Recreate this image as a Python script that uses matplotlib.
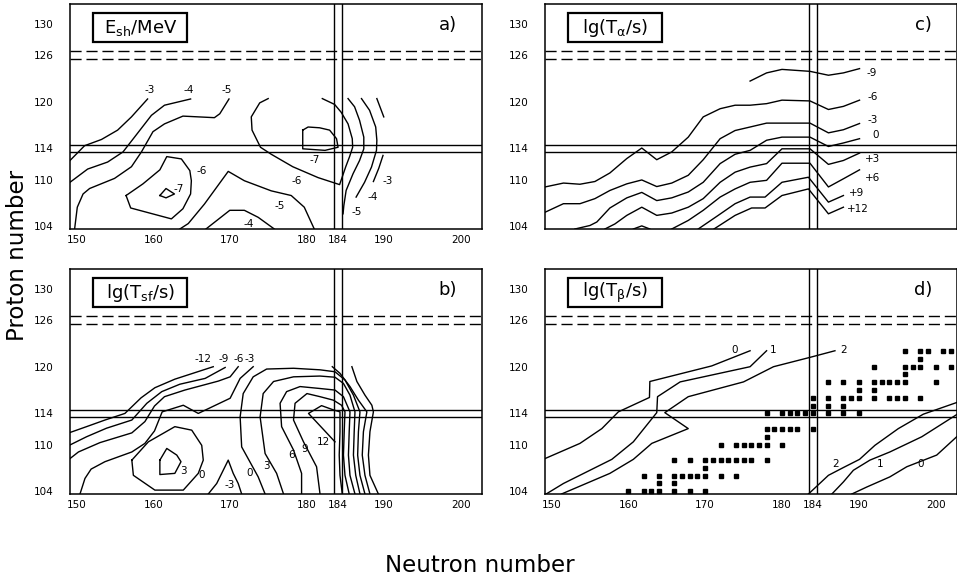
import matplotlib
matplotlib.use('Agg')
import matplotlib.pyplot as plt
from matplotlib import font_manager
from matplotlib.patches import Rectangle

# fonts: narrow face for the numbers if it is there
have = {f.name for f in font_manager.fontManager.ttflist}
NARROW = 'Liberation Sans Narrow' if 'Liberation Sans Narrow' in have else 'DejaVu Sans'
plt.rcParams['font.family'] = [NARROW, 'DejaVu Sans']
plt.rcParams['mathtext.fontset'] = 'dejavusans'

"""# axes"""
x_ticks = [150, 160, 170, 180, 184, 190, 200]
y_ticks = [104, 110, 114, 120, 126, 130]
magic_n = 184
magic_z = [114, 126]

"""# a) shell correction energy E_sh/MeV  (N, Z) points"""
esh_m3_a = [(149.15, 112.45), (151.05, 114.35), (153.25, 115.15), (155.35, 116.35), (157.15, 118.05), (159.25, 120.35)]
esh_m4_a = [(149.15, 109.65), (151.45, 111.35), (154.05, 112.25), (156.05, 113.55), (157.55, 115.45), (159.75, 118.25),
            (161.45, 119.55), (164.85, 120.35)]
esh_m5_a = [(149.75, 103.65), (150.1, 106.45), (150.85, 108.15), (151.7, 108.85), (154.95, 110.15), (157.15, 111.65),
            (158.45, 113.55), (159.95, 116.15), (161.45, 117.15), (163.85, 118.15), (167.95, 117.95), (168.65, 118.45),
            (169.85, 120.35)]
esh_m6_a = [(156.45, 107.95), (158.65, 109.45), (160.85, 111.25), (161.75, 112.95), (163.65, 112.65), (164.75, 111.15),
            (164.95, 109.85), (164.85, 108.15), (163.85, 106.25), (162.35, 104.95), (157.05, 106.35), (156.45, 107.95)]
esh_m7_a = [(160.85, 107.95), (161.65, 108.85), (162.75, 108.15), (161.65, 107.65), (160.85, 107.95)]
esh_m5_b = [(163.45, 103.65), (164.55, 104.35), (166.65, 106.85), (169.75, 111.05), (171.85, 109.85), (175.35, 108.55),
            (177.95, 107.95), (179.65, 106.45), (180.95, 103.65)]
esh_m4_b = [(166.85, 103.65), (169.95, 106.05), (171.85, 106.05), (173.65, 105.15), (175.75, 103.65)]
esh_m6_b = [(174.95, 120.4), (173.85, 119.85), (172.75, 118.05), (172.85, 116.35), (173.95, 114.15), (175.35, 113.25),
            (178.15, 111.65), (181.45, 110.25), (184.25, 109.35), (185.05, 111.65), (185.55, 112.95), (185.95, 114.15),
            (185.9, 115.25), (185.35, 117.15), (184.45, 118.65), (183.6, 119.65), (182.0, 120.4)]
esh_m7_b = [(179.45, 116.35), (180.15, 116.75), (181.65, 116.65), (182.95, 116.35), (183.85, 115.25), (184.05, 114.15),
            (182.35, 113.75), (179.45, 113.95), (179.45, 116.35)]
esh_m5_c = [(185.35, 120.4), (186.2, 119.35), (186.85, 117.6), (187.4, 115.45), (187.4, 113.95), (186.85, 112.45),
            (186.0, 110.75), (185.1, 108.6), (184.8, 106.65), (184.7, 105.6)]
esh_m4_c = [(187.1, 120.4), (188.15, 118.9), (188.95, 116.75), (189.1, 115.05), (189.05, 113.75), (188.4, 111.6),
            (187.5, 109.65), (186.4, 107.75)]
esh_m3_c1 = [(189.1, 120.4), (190.0, 118.05)]
esh_m3_c2 = [(189.9, 113.1), (189.35, 111.45), (188.65, 109.75)]
esh_labels = [('-3', 159.55, 121.55), ('-4', 164.55, 121.55), ('-5', 169.55, 121.55), ('-6', 166.25, 111.15),
              ('-7', 163.25, 108.85), ('-5', 176.45, 106.65), ('-4', 172.35, 104.3), ('-6', 178.65, 109.85),
              ('-7', 181.05, 112.55), ('-3', 190.45, 109.85), ('-4', 188.55, 107.75), ('-5', 186.45, 105.85)]

"""# b) spontaneous fission lg(T_sf/s)"""
sf_m12 = [(149.15, 111.55), (151.3, 112.3), (153.7, 113.15), (156.3, 114.0), (158.4, 116.0), (160.2, 117.3),
          (162.8, 118.4), (167.8, 120.0)]
sf_m9 = [(149.15, 109.95), (151.3, 111.0), (153.9, 112.1), (157.2, 113.15), (159.15, 115.3), (161.1, 116.8),
         (163.45, 117.75), (166.75, 118.5), (169.35, 119.9)]
sf_m6 = [(149.15, 108.2), (150.25, 109.05), (153.05, 110.25), (157.2, 111.5), (158.9, 112.95), (160.15, 114.95),
         (161.45, 116.15), (164.1, 117.0), (168.45, 118.15), (170.0, 118.7), (171.05, 120.0)]
sf_m3 = [(150.45, 103.65), (151.1, 105.65), (151.9, 106.85), (153.7, 107.8), (157.2, 109.05), (158.9, 110.15),
         (160.15, 111.75), (161.15, 114.2), (163.9, 115.05), (165.85, 114.0), (170.0, 115.95), (171.3, 118.5),
         (173.0, 120.0)]
sf_3_loop = [(160.85, 108.0), (161.75, 109.5), (163.05, 108.65), (163.6, 107.8), (162.8, 106.3), (160.85, 106.15),
             (160.85, 108.0)]
sf_0_loop = [(157.2, 108.0), (159.35, 110.35), (162.8, 112.3), (165.0, 111.85), (166.3, 109.9), (166.5, 108.0),
             (165.85, 106.3), (163.9, 104.15), (160.2, 104.15), (157.4, 106.05), (157.2, 108.0)]
sf_m3_tri = [(167.15, 103.65), (168.25, 105.0), (169.75, 108.0), (170.4, 106.3), (171.05, 105.0), (171.5, 103.65)]
sf_0 = [(174.55, 103.65), (173.65, 105.85), (171.5, 109.7), (171.3, 113.55), (171.7, 116.55), (173.0, 118.7),
        (174.75, 119.7), (178.25, 119.8), (181.7, 119.6), (183.65, 119.35), (184.95, 118.3), (186.05, 116.35),
        (186.9, 114.2), (186.7, 111.65), (186.6, 108.65), (186.9, 106.05), (187.55, 103.65)]
sf_3 = [(176.95, 103.65), (176.05, 106.3), (174.55, 108.85), (173.9, 113.55), (174.3, 116.55), (175.65, 118.1),
        (178.25, 118.7), (181.7, 118.8), (183.65, 118.65), (184.75, 117.85), (185.6, 116.35), (186.25, 114.2),
        (186.15, 111.65), (186.05, 108.65), (186.35, 106.05), (186.9, 103.65)]
sf_6 = [(179.3, 103.65), (179.3, 106.3), (178.25, 109.3), (176.7, 112.3), (176.5, 115.3), (177.35, 116.8),
        (179.1, 117.45), (181.7, 117.2), (183.65, 117.0), (184.75, 116.15), (185.6, 114.2), (185.5, 111.65),
        (185.4, 108.65), (185.6, 106.05), (186.25, 103.65)]
sf_9 = [(181.7, 103.65), (181.25, 107.15), (179.55, 110.35), (178.25, 113.15), (178.45, 115.3), (180.0, 116.55),
        (181.7, 116.15), (183.45, 115.7), (184.5, 115.05), (184.95, 114.2), (184.85, 111.65), (184.75, 108.65),
        (184.95, 106.05), (185.5, 103.65)]
sf_12 = [(183.65, 110.35), (180.2, 114.0), (181.9, 115.0), (183.45, 114.45), (184.3, 114.2), (184.3, 111.65),
         (184.2, 108.65), (184.3, 106.05), (184.6, 103.65)]
sf_edge1 = [(183.3, 120.0), (184.3, 119.15), (185.6, 117.45), (186.7, 115.7), (187.8, 114.2), (187.35, 111.65),
            (187.2, 108.65), (187.55, 106.05), (188.2, 103.65)]
sf_edge2 = [(185.85, 120.0), (186.5, 118.1), (187.55, 116.35), (188.45, 115.05), (188.65, 114.2), (188.2, 111.65),
            (188.0, 108.65), (188.2, 106.05), (189.3, 103.65)]
sf_labels = [('-12', 166.5, 120.95), ('-9', 169.1, 120.95), ('-6', 171.05, 120.95), ('-3', 172.6, 120.95),
             ('3', 163.9, 106.6), ('0', 166.3, 106.15), ('-3', 170.0, 104.75), ('0', 172.6, 106.3),
             ('3', 174.75, 107.25), ('6', 177.95, 108.65), ('9', 179.75, 109.4), ('12', 182.15, 110.35)]

"""# c) alpha decay lg(T_alpha/s)"""
al_m9 = [(175.85, 122.65), (178.0, 123.7), (180.0, 124.15), (183.65, 123.9), (186.05, 123.4), (188.0, 123.7),
         (190.1, 124.25)]
al_m6 = [(149.15, 109.05), (151.55, 109.55), (153.7, 109.4), (155.65, 109.75), (157.6, 110.85), (159.8, 112.7),
         (161.75, 114.05), (163.7, 112.55), (165.65, 113.55), (167.8, 115.45), (169.75, 118.05), (171.95, 119.1),
         (173.9, 119.55), (175.85, 119.55), (178.0, 119.75), (180.0, 120.2), (183.65, 120.1), (186.05, 119.0),
         (188.0, 119.4), (190.1, 120.2)]
al_m3 = [(149.15, 105.8), (151.55, 106.9), (153.7, 106.9), (155.65, 107.55), (157.6, 108.6), (159.8, 109.45),
         (161.75, 109.95), (163.7, 109.1), (165.65, 109.55), (167.8, 110.55), (169.75, 112.55), (171.95, 115.25),
         (173.9, 116.3), (175.85, 116.75), (178.0, 117.25), (180.0, 117.25), (183.65, 117.25), (186.05, 116.0),
         (188.0, 116.4), (190.1, 117.2)]
al_0 = [(153.05, 103.65), (155.0, 104.1), (155.9, 104.55), (157.6, 106.35), (159.8, 107.65), (161.75, 108.35),
        (163.7, 107.3), (165.65, 107.65), (167.8, 108.4), (169.75, 109.65), (171.95, 112.05), (173.9, 113.25),
        (175.85, 113.75), (178.0, 115.05), (180.0, 115.45), (183.65, 115.45), (186.05, 114.25), (188.0, 114.7),
        (190.1, 115.25)]
al_p3 = [(156.95, 103.65), (158.25, 104.3), (159.8, 105.4), (161.75, 106.45), (163.7, 105.4), (165.65, 105.7),
         (167.8, 106.45), (169.75, 107.55), (171.95, 109.65), (173.9, 110.95), (175.85, 111.6), (178.0, 112.05),
         (180.0, 113.95), (183.65, 113.95), (186.05, 111.95), (188.0, 112.45), (190.1, 113.4)]
al_bump = [(160.65, 103.65), (161.75, 104.05), (162.8, 103.65)]
al_p6 = [(165.65, 103.65), (167.8, 104.75), (169.75, 106.05), (171.95, 107.75), (173.9, 108.8), (175.85, 109.65),
         (178.0, 109.9), (180.0, 112.1), (183.65, 112.1), (186.05, 109.05), (188.0, 110.1), (190.1, 111.25)]
al_p9 = [(169.1, 103.65), (171.7, 105.4), (173.9, 106.9), (175.85, 107.75), (177.8, 107.75), (180.0, 109.65),
         (183.45, 110.3), (186.05, 107.1), (188.0, 107.95)]
al_p12 = [(171.15, 103.65), (173.9, 105.4), (176.05, 106.35), (177.8, 106.35), (180.0, 107.95), (183.45, 108.8),
          (186.05, 105.6), (188.0, 106.45)]
al_labels = [('-9', 191.7, 123.7), ('-6', 191.8, 120.6), ('-3', 191.8, 117.7), ('0', 192.25, 115.7),
             ('+3', 191.8, 112.7), ('+6', 191.8, 110.2), ('+9', 189.75, 108.25), ('+12', 189.95, 106.25)]

"""# d) beta decay lg(T_beta/s) and beta-stable nuclei"""
be_0_up = [(149.15, 108.2), (153.7, 110.15), (156.55, 112.05), (158.7, 114.2), (162.75, 116.05), (162.8, 118.1),
           (170.85, 120.1), (175.85, 122.05)]
be_1_up = [(149.3, 103.65), (151.55, 105.0), (157.85, 108.1), (160.65, 110.35), (163.7, 114.1), (163.8, 116.15),
           (166.75, 118.05), (175.85, 120.0), (178.0, 122.05)]
be_2_up = [(151.3, 103.65), (157.6, 106.3), (160.65, 108.1), (163.05, 110.15), (167.8, 112.05), (164.75, 114.1),
           (167.8, 116.15), (175.0, 118.05), (178.9, 120.0), (183.65, 121.2), (186.9, 122.05)]
be_2_low = [(183.45, 103.65), (186.05, 106.05), (188.0, 107.05), (190.1, 108.1), (192.1, 109.9), (195.15, 112.05),
            (198.4, 113.9), (202.75, 115.4)]
be_1_low = [(186.5, 103.65), (188.0, 105.2), (189.3, 106.7), (191.45, 108.0), (194.05, 109.05), (198.2, 111.0),
            (202.75, 113.85)]
be_0_low = [(189.1, 103.65), (191.05, 104.55), (194.05, 105.85), (196.25, 107.15), (200.15, 108.65), (202.75, 111.0)]
be_labels = [('0', 173.9, 122.15), ('1', 178.9, 122.15), ('2', 188.0, 122.15),
             ('2', 187.0, 107.5), ('1', 192.8, 107.5), ('0', 198.0, 107.5)]

stable_n = [160, 162, 163, 164, 166, 168, 170,
            164, 166,
            162, 164, 166, 167, 168, 169, 170, 172, 174,
            170,
            166, 168, 170, 171, 172, 173, 174, 175, 176, 178,
            172, 174, 175, 176, 177, 178, 180,
            178,
            178, 179, 180, 181, 182, 184,
            178, 180, 181, 182, 183, 184, 186, 188, 190,
            184, 186, 188,
            184, 186, 188, 189, 190, 192, 194, 195, 196, 198,
            190, 192,
            186, 188, 190, 192, 193, 194, 195, 196, 200,
            196,
            192, 196, 197, 198, 200, 202,
            198,
            196, 198, 199, 201, 202]
stable_z = [104] * 7 + [105] * 2 + [106] * 9 + [107] * 1 + [108] * 10 + [110] * 7 + [111] * 1 + [112] * 6 \
    + [114] * 9 + [115] * 3 + [116] * 10 + [117] * 2 + [118] * 9 + [119] * 1 + [120] * 6 + [121] * 1 + [122] * 5

panels = {
    'a': ([esh_m3_a, esh_m4_a, esh_m5_a, esh_m6_a, esh_m7_a, esh_m5_b, esh_m4_b, esh_m6_b, esh_m7_b,
           esh_m5_c, esh_m4_c, esh_m3_c1, esh_m3_c2], esh_labels, r'$\mathregular{E_{sh}/MeV}$'),
    'b': ([sf_m12, sf_m9, sf_m6, sf_m3, sf_3_loop, sf_0_loop, sf_m3_tri, sf_0, sf_3, sf_6, sf_9, sf_12,
           sf_edge1, sf_edge2], sf_labels, r'$\mathregular{lg(T_{sf}/s)}$'),
    'c': ([al_m9, al_m6, al_m3, al_0, al_p3, al_bump, al_p6, al_p9, al_p12], al_labels,
          r'$\mathregular{lg(T_{\alpha}/s)}$'),
    'd': ([be_0_up, be_1_up, be_2_up, be_2_low, be_1_low, be_0_low], be_labels,
          r'$\mathregular{lg(T_{\beta}/s)}$'),
}

W, H = 957, 580
fig = plt.figure(figsize=(W / 100, H / 100), dpi=100)
boxes = {'a': [70, 4], 'c': [545, 4], 'b': [70, 269], 'd': [545, 269]}
DASH = (0, (8, 3.5))

for key, (lines, labels, title) in panels.items():
    x0, top = boxes[key]
    ax = fig.add_axes([x0 / W, 1 - (top + 225) / H, 411.7 / W, 225 / H])
    ax.set_xlim(149.15, 202.75)
    ax.set_ylim(103.65, 132.55)

    for z in magic_z:
        ls = '-' if z == 114 else DASH
        ax.axhline(z - 0.5, color='black', lw=1.0, ls=ls)
        ax.axhline(z + 0.5, color='black', lw=1.0, ls=ls)
    ax.axvline(magic_n - 0.5, color='black', lw=1.0)
    ax.axvline(magic_n + 0.5, color='black', lw=1.0)

    for pts in lines:
        n, z = zip(*pts)
        ax.plot(n, z, color='black', lw=1.0)
    for txt, n, z in labels:
        ax.text(n, z, txt, fontsize=7.5, ha='center', va='center')

    if key == 'd':
        ax.plot(stable_n, stable_z, ls='none', marker='s', ms=3.0, color='black', clip_on=False)

    ax.set_xticks(x_ticks)
    ax.set_yticks(y_ticks)
    ax.tick_params(length=0, labelsize=7.5, pad=4)
    ax.tick_params(axis='y', pad=12)
    if key == 'c':
        ax.set_xticklabels([])
    for s in ax.spines.values():
        s.set_linewidth(1.1)

    ax.add_patch(Rectangle((0.057, 0.83), 0.228, 0.13, transform=ax.transAxes,
                           fill=False, lw=1.6, ec='black'))
    ax.text(0.171, 0.893, title, transform=ax.transAxes, fontsize=13,
            ha='center', va='center', family='DejaVu Sans')
    ax.text(0.918, 0.905, key + ')', transform=ax.transAxes, fontsize=13,
            ha='center', va='center', family='DejaVu Sans')

fig.text(480 / W, 1 - 565 / H, 'Neutron number', ha='center', va='center', fontsize=16.5, family='DejaVu Sans')
fig.text(18 / W, 1 - 255 / H, 'Proton number', ha='center', va='center', rotation=90, fontsize=16.5,
         family='DejaVu Sans')

fig.savefig('out.png', dpi=100)
